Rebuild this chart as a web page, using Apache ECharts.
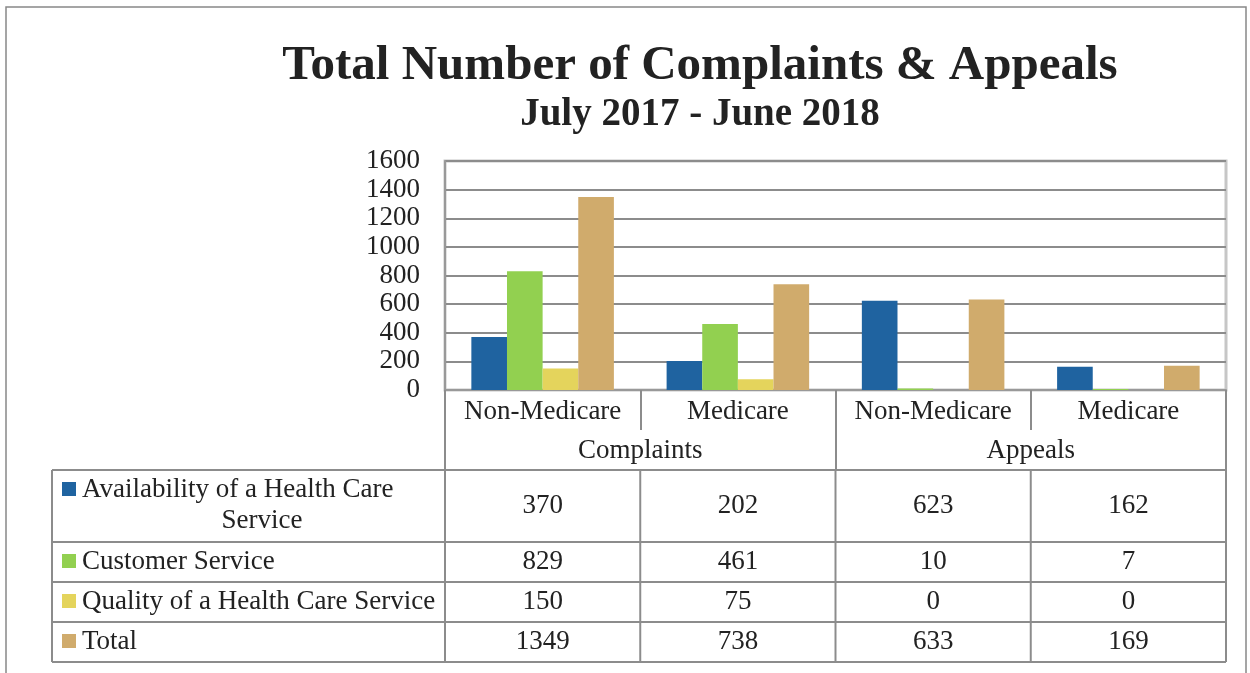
<!DOCTYPE html>
<html>
<head>
<meta charset="utf-8">
<title>Total Number of Complaints & Appeals</title>
<script src="https://cdn.jsdelivr.net/npm/echarts@6/dist/echarts.min.js"></script>
<style>
  html, body { margin: 0; padding: 0; background: #fff; }
  #chart { width: 1250px; height: 673px; }
</style>
</head>
<body>
<div id="chart"></div>
<script>
// 数据
const categories = ['Non-Medicare', 'Medicare', 'Non-Medicare', 'Medicare'];
const groups = ['Complaints', 'Appeals'];
const seriesNames = ['Availability of a Health Care Service', 'Customer Service', 'Quality of a Health Care Service', 'Total'];
const availability = [370, 202, 623, 162];
const customerService = [829, 461, 10, 7];
const quality = [150, 75, 0, 0];
const total = [1349, 738, 633, 169];
const yMax = 1600;
const yStep = 200;

const colors = ['#1f63a0', '#92d050', '#e4d45c', '#d0ab6c'];
const rows = [availability, customerService, quality, total];
const font = 'Liberation Serif';
const gridColor = '#8c8c8c';

function createChart(element, option) {
    let myChart = echarts.init(element); // 创建echart对象
    myChart.setOption(option); // 设置配置
    return myChart;
}

const chart = createChart(document.getElementById('chart'), {
    animation: false,
    backgroundColor: '#fff',
    title: [{
        text: 'Total Number of Complaints & Appeals',
        left: 700, top: 42, padding: 0, textAlign: 'center',
        textStyle: { fontFamily: font, fontSize: 49, fontWeight: 'bold', color: '#222' }
    }, {
        text: 'July 2017 - June 2018',
        left: 700, top: 95, padding: 0, textAlign: 'center',
        textStyle: { fontFamily: font, fontSize: 39, fontWeight: 'bold', color: '#222' }
    }],
    grid: {
        left: 445, right: 24, top: 161, bottom: 283,
        show: true, borderColor: '#c6c6c6', borderWidth: 3
    },
    xAxis: [{
        type: 'category',
        data: categories,
        axisLine: { lineStyle: { color: '#999', width: 2 } },
        axisTick: { show: true, alignWithLabel: false, interval: 0, length: 40, lineStyle: { color: gridColor, width: 2 } },
        axisLabel: { interval: 0, margin: 8, fontFamily: font, fontSize: 27, color: '#222' }
    }, {
        type: 'category',
        data: groups,
        position: 'bottom',
        offset: 40,
        axisLine: { show: false },
        axisTick: { show: true, alignWithLabel: false, interval: 0, length: 40, lineStyle: { color: gridColor, width: 2 } },
        axisLabel: { interval: 0, margin: 7, fontFamily: font, fontSize: 27, color: '#222' }
    }],
    yAxis: {
        type: 'value',
        min: 0, max: yMax, interval: yStep,
        axisLine: { show: true, lineStyle: { color: '#999', width: 2 } },
        axisTick: { show: false },
        axisLabel: { margin: 25, fontFamily: font, fontSize: 27, color: '#222', formatter: v => String(v) },
        splitLine: { lineStyle: { color: gridColor, width: 2 } }
    },
    series: rows.map((d, i) => ({
        name: seriesNames[i],
        type: 'bar',
        xAxisIndex: 0,
        data: d,
        barGap: '0%',
        barCategoryGap: '27%',
        itemStyle: { color: colors[i] }
    }))
});

// 数据表 (位置从坐标轴换算)
const xs = categories.map((c, i) => chart.convertToPixel({ xAxisIndex: 0 }, i));
const half = (xs[1] - xs[0]) / 2;
const tableLeft = 52;
const tableRight = xs[3] + half;
const rowEdges = [470, 542, 582, 622, 662];
const colEdges = [tableLeft, xs[0] - half].concat(xs.map(x => x + half));
const lineStyle = { stroke: gridColor, lineWidth: 2 };
const graphic = [];

// 外框
graphic.push({ type: 'rect', shape: { x: 6, y: 7, width: 1240, height: 700 }, style: { fill: null, stroke: '#888', lineWidth: 1.5 }, silent: true });

rowEdges.forEach(y => graphic.push({ type: 'line', shape: { x1: tableLeft, y1: y, x2: tableRight, y2: y }, style: lineStyle }));
colEdges.forEach(x => graphic.push({ type: 'line', shape: { x1: x, y1: rowEdges[0], x2: x, y2: rowEdges[4] }, style: lineStyle }));

const txt = { fontFamily: font, fontSize: 27, fill: '#222' };
rows.forEach((d, r) => {
    const cy = (rowEdges[r] + rowEdges[r + 1]) / 2;
    d.forEach((v, c) => graphic.push({
        type: 'text', x: xs[c], y: cy,
        style: Object.assign({ text: String(v), align: 'center', verticalAlign: 'middle' }, txt)
    }));
    // 图例色块
    const sy = r === 0 ? rowEdges[r] + 20 : cy;
    graphic.push({ type: 'rect', shape: { x: 62, y: sy - 8, width: 14, height: 14 }, style: { fill: colors[r] } });
    if (r === 0) {
        graphic.push({ type: 'text', x: 82, y: sy, style: Object.assign({ text: 'Availability of a Health Care', align: 'left', verticalAlign: 'middle' }, txt) });
        graphic.push({ type: 'text', x: 262, y: sy + 31, style: Object.assign({ text: 'Service', align: 'center', verticalAlign: 'middle' }, txt) });
    } else {
        graphic.push({ type: 'text', x: 82, y: cy, style: Object.assign({ text: seriesNames[r], align: 'left', verticalAlign: 'middle' }, txt) });
    }
});

chart.setOption({ graphic: graphic });
</script>
</body>
</html>
